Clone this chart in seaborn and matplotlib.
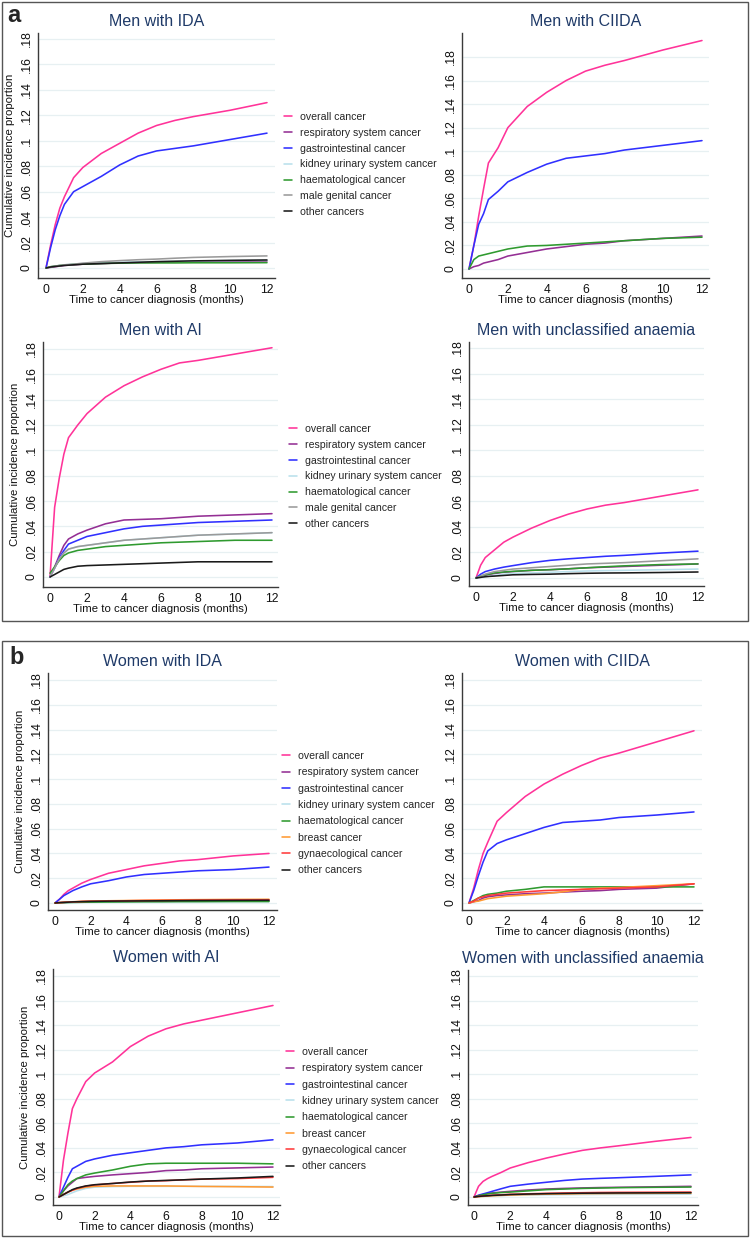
import numpy as np
import pandas as pd
import matplotlib
matplotlib.use("Agg")
import matplotlib.pyplot as plt
from matplotlib.patches import Rectangle
import seaborn as sns

# ---------------- data ----------------
months = [0, 0.25, 0.5, 0.75, 1, 1.5, 2, 3, 4, 5, 6, 7, 8, 10, 12]
x_ticks = [0, 2, 4, 6, 8, 10, 12]
y_ticks = [0, .02, .04, .06, .08, .10, .12, .14, .16, .18]

men_categories = ["overall cancer", "respiratory system cancer", "gastrointestinal cancer",
                  "kidney urinary system cancer", "haematological cancer",
                  "male genital cancer", "other cancers"]
women_categories = ["overall cancer", "respiratory system cancer", "gastrointestinal cancer",
                    "kidney urinary system cancer", "haematological cancer",
                    "breast cancer", "gynaecological cancer", "other cancers"]

# Men with IDA
men_ida_overall = [0, .018, .034, .047, .056, .071, .079, .090, .098, .106, .112, .116, .119, .124, .130]
men_ida_resp = [0, .0005, .001, .0015, .002, .0025, .003, .0035, .004, .0042, .0045, .0048, .005, .0052, .0055]
men_ida_gi = [0, .016, .030, .041, .050, .060, .064, .072, .081, .088, .092, .094, .096, .101, .106]
men_ida_kidney = [0, .001, .0015, .002, .0025, .003, .0035, .004, .0045, .0048, .005, .0052, .0055, .0058, .006]
men_ida_haem = [0, .001, .0015, .002, .0023, .0028, .003, .0035, .0038, .004, .004, .004, .0041, .0041, .0042]
men_ida_genital = [0, .001, .0015, .002, .0025, .003, .0038, .005, .0058, .0065, .007, .0077, .0083, .009, .0095]
men_ida_other = [0, .0008, .0012, .0016, .002, .0025, .003, .0035, .004, .0045, .005, .0053, .0056, .006, .0063]

# Men with CIIDA
men_ciida_overall = [0, .020, .045, .068, .090, .103, .120, .138, .150, .160, .168, .173, .177, .186, .194]
men_ciida_resp = [0, .002, .003, .005, .006, .008, .011, .014, .017, .019, .021, .022, .024, .026, .028]
men_ciida_gi = [0, .020, .038, .047, .059, .066, .074, .082, .089, .094, .096, .098, .101, .105, .109]
men_ciida_haem = [0, .008, .011, .012, .013, .015, .017, .0195, .020, .021, .022, .023, .024, .026, .027]

# Men with AI
men_ai_overall = [0, .055, .078, .097, .110, .120, .129, .142, .151, .158, .164, .169, .171, .176, .181]
men_ai_resp = [0, .008, .017, .025, .030, .034, .037, .042, .045, .0455, .046, .047, .048, .049, .050]
men_ai_gi = [0, .007, .015, .021, .026, .029, .032, .035, .038, .040, .041, .042, .043, .044, .045]
men_ai_kidney = [0, .007, .014, .019, .022, .024, .025, .027, .029, .030, .031, .032, .033, .034, .035]
men_ai_haem = [.003, .008, .013, .017, .019, .021, .022, .024, .025, .026, .027, .0275, .028, .029, .029]
men_ai_genital = [0, .007, .014, .019, .022, .024, .025, .027, .029, .030, .031, .032, .033, .034, .035]
men_ai_other = [0, .002, .004, .006, .007, .0085, .009, .0095, .010, .0105, .011, .0115, .012, .012, .012]

# Men with unclassified anaemia
men_unc_overall = [0, .010, .016, .019, .022, .028, .032, .039, .045, .050, .054, .057, .059, .064, .069]
men_unc_resp = [0, .001, .002, .003, .0035, .0045, .005, .006, .0065, .0072, .008, .0085, .009, .010, .011]
men_unc_gi = [0, .003, .005, .006, .007, .0085, .0097, .012, .0138, .015, .016, .017, .0177, .0195, .021]
men_unc_kidney = [0, .0005, .001, .0015, .002, .003, .0035, .004, .0045, .005, .0055, .0058, .006, .0065, .007]
men_unc_haem = [0, .0015, .0025, .0032, .004, .0047, .0052, .006, .0065, .0072, .008, .0088, .0095, .0105, .011]
men_unc_genital = [0, .0015, .003, .004, .005, .006, .007, .008, .009, .010, .011, .0115, .012, .0135, .015]
men_unc_other = [0, .0005, .001, .0013, .0015, .002, .0025, .0028, .003, .0034, .0037, .0039, .004, .0043, .0047]

# Women with IDA
women_ida_overall = [0, .003, .007, .010, .012, .016, .019, .024, .027, .030, .032, .034, .035, .038, .040]
women_ida_resp = [0, .0002, .0004, .0006, .0008, .001, .0011, .0012, .0013, .0014, .0015, .0015, .0016, .0016, .0017]
women_ida_gi = [0, .003, .006, .008, .010, .013, .0155, .018, .021, .023, .024, .025, .026, .027, .029]
women_ida_kidney = [0, .0001, .0002, .0003, .0004, .0005, .0006, .0007, .0008, .0009, .001, .001, .001, .0011, .0011]
women_ida_haem = [0, .0002, .0003, .0004, .0005, .0006, .0007, .0008, .0009, .001, .001, .0011, .0011, .0012, .0012]
women_ida_breast = [0, .0003, .0006, .0008, .001, .0013, .0015, .0018, .002, .0022, .0024, .0026, .0027, .0029, .003]
women_ida_gynae = [0, .0003, .0005, .0007, .0009, .0012, .0014, .0016, .0018, .002, .0021, .0022, .0023, .0025, .0026]
women_ida_other = [0, .0003, .0005, .0007, .0009, .0011, .0013, .0015, .0016, .0017, .0018, .0019, .002, .0021, .0022]

# Women with CIIDA
women_ciida_overall = [0, .012, .027, .040, .049, .066, .073, .086, .096, .104, .111, .117, .121, .130, .139]
women_ciida_resp = [0, .001, .002, .004, .005, .006, .0065, .0075, .008, .0088, .0095, .010, .011, .012, .0155]
women_ciida_gi = [0, .010, .022, .033, .042, .048, .051, .056, .061, .065, .066, .067, .069, .071, .0735]
women_ciida_haem = [0, .002, .004, .006, .007, .008, .0095, .011, .013, .013, .013, .013, .013, .013, .013]
women_ciida_breast = [0, .001, .0015, .0025, .0035, .0045, .0055, .0065, .0075, .009, .011, .012, .0125, .014, .0155]
women_ciida_gynae = [0, .0015, .004, .005, .006, .007, .008, .009, .010, .0105, .011, .0115, .012, .013, .0155]

# Women with AI
women_ai_overall = [0, .030, .052, .072, .080, .094, .101, .110, .1225, .131, .137, .141, .144, .150, .156]
women_ai_resp = [0, .005, .009, .012, .015, .016, .0168, .018, .019, .020, .0215, .022, .023, .0237, .0244]
women_ai_gi = [0, .008, .016, .023, .025, .029, .031, .034, .036, .038, .040, .041, .0425, .044, .0466]
women_ai_kidney = [0, .001, .002, .0035, .005, .007, .008, .0085, .0087, .0087, .0087, .0087, .0087, .0086, .0085]
women_ai_haem = [0, .005, .010, .013, .015, .018, .0195, .022, .025, .027, .0275, .0275, .0275, .0275, .027]
women_ai_breast = [0, .002, .004, .0055, .0065, .008, .0087, .009, .009, .009, .009, .0088, .0086, .0084, .0081]
women_ai_gynae = [0, .002, .004, .0055, .007, .0088, .0098, .011, .012, .013, .0133, .014, .0145, .015, .016]
women_ai_other = [0, .002, .004, .006, .0073, .009, .010, .011, .0122, .013, .0135, .014, .0146, .0155, .0168]

# Women with unclassified anaemia
women_unc_overall = [0, .0087, .0127, .015, .0168, .020, .0236, .028, .0317, .035, .038, .040, .0417, .0453, .0485]
women_unc_resp = [0, .001, .002, .0028, .0033, .004, .0046, .0057, .0065, .007, .0074, .0077, .0079, .0083, .0087]
women_unc_gi = [0, .0015, .0025, .0035, .0046, .0067, .0087, .0105, .012, .0135, .0146, .0152, .0157, .0168, .018]
women_unc_kidney = [0, .0003, .0006, .0008, .001, .0012, .0014, .0016, .0018, .0019, .002, .0021, .0021, .0022, .0023]
women_unc_haem = [0, .001, .0018, .0025, .003, .0036, .004, .005, .006, .0065, .007, .0073, .0076, .0079, .0081]
women_unc_breast = [0, .0003, .0005, .0008, .001, .0013, .0016, .002, .0023, .0025, .0027, .0028, .0029, .003, .0031]
women_unc_gynae = [0, .0005, .0008, .0011, .0014, .0018, .0022, .0026, .003, .0033, .0035, .0037, .0038, .0039, .004]
women_unc_other = [0, .0005, .0008, .001, .0013, .0016, .002, .0024, .0027, .0029, .0031, .0032, .0033, .0034, .0035]

# ---------------- style ----------------
palette = {
    "overall cancer": "#ff3399",
    "respiratory system cancer": "#942f94",
    "gastrointestinal cancer": "#3030ff",
    "kidney urinary system cancer": "#b9e0ec",
    "haematological cancer": "#2f9a2f",
    "male genital cancer": "#9a9a9a",
    "breast cancer": "#ff9a33",
    "gynaecological cancer": "#ff3b3b",
    "other cancers": "#1a1a1a",
}

sns.set_style("white")
plt.rcParams["font.family"] = ["Liberation Sans", "DejaVu Sans"]

W, H = 751, 1239
fig = plt.figure(figsize=(W / 100, H / 100), dpi=100)
fig.patch.set_facecolor("white")

TITLE_COLOR = "#1f3a68"
AX_COLOR = "#3a3a3a"


def ytick_fmt(v):
    if v == 0:
        return "0"
    s = ("%g" % round(v, 2))
    return s.lstrip("0")


def make_panel(box, x0px, x12px, y0px, y18px, title, series, categories, ylabel):
    left, right, top, bottom = box
    ax = fig.add_axes([left / W, 1 - bottom / H, (right - left) / W, (bottom - top) / H])
    pxm = (x12px - x0px) / 12.0
    pxu = (y0px - y18px) / 0.18
    ax.set_xlim((left - x0px) / pxm, 12 + (right - x12px) / pxm)
    ax.set_ylim(-(bottom - y0px) / pxu, (y0px - top) / pxu)

    rows = []
    for cat, vals in series.items():
        for m, v in zip(months, vals):
            rows.append((cat, m, v))
    df = pd.DataFrame(rows, columns=["cancer", "month", "cip"])
    order = [c for c in categories if c in series]
    sns.lineplot(data=df, x="month", y="cip", hue="cancer", hue_order=order,
                 palette=palette, estimator=None, linewidth=1.15, ax=ax, legend="full")
    leg = ax.get_legend()
    handles = list(leg.legend_handles)
    labels = [t.get_text() for t in leg.get_texts()]
    leg.remove()

    ax.set_xticks(x_ticks)
    ax.set_xticklabels([str(t) for t in x_ticks])
    ax.set_yticks(y_ticks)
    ax.set_yticklabels([ytick_fmt(v) for v in y_ticks], rotation=90, va="center")
    ax.grid(axis="y", color="#e7f0f2", linewidth=0.9)
    ax.grid(axis="x", visible=False)
    for s in ["top", "right"]:
        ax.spines[s].set_visible(False)
    for s in ["left", "bottom"]:
        ax.spines[s].set_color(AX_COLOR)
        ax.spines[s].set_linewidth(1.0)
    ax.tick_params(axis="both", direction="out", length=3.6, width=0.8, color=AX_COLOR,
                   labelsize=8.7, labelcolor="#111111", pad=1.0)
    ax.tick_params(axis="y", pad=0.3)
    ax.set_xlabel("Time to cancer diagnosis (months)", fontsize=8.2, labelpad=-1, color="#111111")
    if ylabel:
        ax.set_ylabel("Cumulative incidence proportion", fontsize=8.2, labelpad=4, color="#111111")
    else:
        ax.set_ylabel("")
    ax.set_title(title, fontsize=11.5, color=TITLE_COLOR, pad=5)
    ax.patch.set_alpha(0)
    return ax, handles, labels


def add_legend(handles, labels, x, y, spacing):
    fig.legend(handles, labels, loc="upper left", bbox_to_anchor=(x / W, 1 - y / H),
               bbox_transform=fig.transFigure, frameon=False, fontsize=7.6,
               handlelength=0.75, handletextpad=0.8, labelspacing=spacing,
               borderpad=0, borderaxespad=0)


# panel boxes
fig.patches.append(Rectangle((2 / W, 1 - 621 / H), 746 / W, 619 / H, transform=fig.transFigure,
                             fill=False, edgecolor="#555555", linewidth=1.0))
fig.patches.append(Rectangle((2 / W, 1 - 1236 / H), 746 / W, 595 / H, transform=fig.transFigure,
                             fill=False, edgecolor="#555555", linewidth=1.0))
fig.text(7 / W, 1 - 16 / H, "a", fontsize=17, fontweight="bold", va="center", ha="left")
fig.text(9 / W, 1 - 658 / H, "b", fontsize=17, fontweight="bold", va="center", ha="left")

men_ida = {"overall cancer": men_ida_overall, "respiratory system cancer": men_ida_resp,
           "gastrointestinal cancer": men_ida_gi, "kidney urinary system cancer": men_ida_kidney,
           "haematological cancer": men_ida_haem, "male genital cancer": men_ida_genital,
           "other cancers": men_ida_other}
men_ciida = {"overall cancer": men_ciida_overall, "respiratory system cancer": men_ciida_resp,
             "gastrointestinal cancer": men_ciida_gi, "haematological cancer": men_ciida_haem}
men_ai = {"overall cancer": men_ai_overall, "respiratory system cancer": men_ai_resp,
          "gastrointestinal cancer": men_ai_gi, "kidney urinary system cancer": men_ai_kidney,
          "haematological cancer": men_ai_haem,
          "male genital cancer": men_ai_genital, "other cancers": men_ai_other}
men_unc = {"overall cancer": men_unc_overall, "respiratory system cancer": men_unc_resp,
           "gastrointestinal cancer": men_unc_gi, "kidney urinary system cancer": men_unc_kidney,
           "haematological cancer": men_unc_haem, "male genital cancer": men_unc_genital,
           "other cancers": men_unc_other}
women_ida = {"overall cancer": women_ida_overall, "respiratory system cancer": women_ida_resp,
             "gastrointestinal cancer": women_ida_gi, "kidney urinary system cancer": women_ida_kidney,
             "haematological cancer": women_ida_haem, "breast cancer": women_ida_breast,
             "gynaecological cancer": women_ida_gynae, "other cancers": women_ida_other}
women_ciida = {"overall cancer": women_ciida_overall, "respiratory system cancer": women_ciida_resp,
               "gastrointestinal cancer": women_ciida_gi, "haematological cancer": women_ciida_haem,
               "breast cancer": women_ciida_breast, "gynaecological cancer": women_ciida_gynae}
women_ai = {"overall cancer": women_ai_overall, "respiratory system cancer": women_ai_resp,
            "gastrointestinal cancer": women_ai_gi, "kidney urinary system cancer": women_ai_kidney,
            "haematological cancer": women_ai_haem, "breast cancer": women_ai_breast,
            "gynaecological cancer": women_ai_gynae, "other cancers": women_ai_other}
women_unc = {"overall cancer": women_unc_overall, "respiratory system cancer": women_unc_resp,
             "gastrointestinal cancer": women_unc_gi, "kidney urinary system cancer": women_unc_kidney,
             "haematological cancer": women_unc_haem, "breast cancer": women_unc_breast,
             "gynaecological cancer": women_unc_gynae, "other cancers": women_unc_other}

_, h, l = make_panel((38, 275, 33, 278), 46, 267, 268, 39, "Men with IDA", men_ida, men_categories, True)
add_legend(h, l, 284, 112, 0.55)
make_panel((462, 709, 33, 278), 469, 702, 269, 57, "Men with CIIDA", men_ciida, men_categories, False)
_, h, l = make_panel((43, 278, 342, 587), 50, 272, 577, 349, "Men with AI", men_ai, men_categories, True)
add_legend(h, l, 289, 424, 0.55)
make_panel((469, 704, 342, 586), 476, 698, 578, 348, "Men with unclassified anaemia", men_unc, men_categories, False)

_, h, l = make_panel((48, 277, 673, 910), 55, 269, 903, 680, "Women with IDA", women_ida, women_categories, True)
add_legend(h, l, 282, 751, 0.6)
make_panel((462, 702, 673, 910), 469, 694, 903, 680, "Women with CIIDA", women_ciida, women_categories, False)
_, h, l = make_panel((53, 280, 969, 1205), 59, 273, 1197, 976, "Women with AI", women_ai, women_categories, True)
add_legend(h, l, 286, 1047, 0.6)
make_panel((468, 698, 970, 1205), 474, 691, 1197, 976, "Women with unclassified anaemia", women_unc, women_categories, False)

fig.savefig("out.png", dpi=100, facecolor="white")
